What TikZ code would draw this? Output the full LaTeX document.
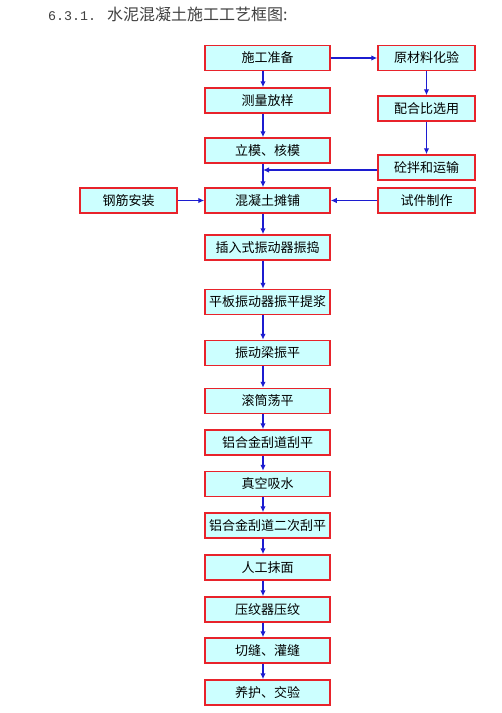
\documentclass[tikz,border=0pt]{standalone}
\usepackage{fontspec}
\setmainfont{Noto Sans CJK SC}
\newfontfamily\shuzi{Liberation Mono}
\usetikzlibrary{arrows.meta}
\definecolor{boxfill}{HTML}{CCFFFF}
\definecolor{boxline}{HTML}{E8232B}
\definecolor{arrowblue}{HTML}{1C1CD0}
\begin{document}
\begin{tikzpicture}[x=1pt, y=-1pt,
    gongxu/.style={draw=boxline, line width=1.5pt, fill=boxfill, minimum width=125pt, minimum height=25pt, inner sep=0pt, font=\fontsize{13}{15}\selectfont},
    fuzhu/.style={gongxu, minimum width=97pt},
    jiantou/.style={-{Latex[length=6pt,width=5.5pt]}, draw=arrowblue, line width=1.2pt}]
    \useasboundingbox (0,0) rectangle (502,713);
    % 标题
    \node[anchor=west, inner sep=0pt, text=black!75, font=\fontsize{16}{18}\selectfont] (biaoti) at (48,14) {{\shuzi\fontsize{13.3}{18}\selectfont 6.3.1.}\hspace{11pt}水泥混凝土施工工艺框图:};
    % 主流程
    \node[gongxu] (zhunbei) at (267.5,58) {施工准备};
    \node[gongxu] (celiang) at (267.5,100.5) {测量放样};
    \node[gongxu] (limo) at (267.5,150.5) {立模、核模};
    \node[gongxu] (tanpu) at (267.5,200.5) {混凝土摊铺};
    \node[gongxu] (chaoru) at (267.5,247.5) {插入式振动器振捣};
    \node[gongxu] (pingban) at (267.5,302) {平板振动器振平提浆};
    \node[gongxu] (zhendong) at (267.5,353) {振动梁振平};
    \node[gongxu] (guntong) at (267.5,401) {滚筒荡平};
    \node[gongxu] (guaping) at (267.5,442.5) {铝合金刮道刮平};
    \node[gongxu] (xishui) at (267.5,484) {真空吸水};
    \node[gongxu] (erci) at (267.5,525.5) {铝合金刮道二次刮平};
    \node[gongxu] (momian) at (267.5,567.5) {人工抹面};
    \node[gongxu] (yawen) at (267.5,609.5) {压纹器压纹};
    \node[gongxu] (qiefeng) at (267.5,650.5) {切缝、灌缝};
    \node[gongxu] (yanghu) at (267.5,692.5) {养护、交验};
    % 两侧
    \node[fuzhu] (huayan) at (426.5,58) {原材料化验};
    \node[fuzhu] (peihe) at (426.5,108.5) {配合比选用};
    \node[fuzhu] (banhe) at (426.5,167.5) {砼拌和运输};
    \node[fuzhu] (shijian) at (426.5,200.5) {试件制作};
    \node[fuzhu] (gangjin) at (128.5,200.5) {钢筋安装};
    % 竖向箭头
    \foreach \a/\b in {zhunbei/celiang, celiang/limo, limo/tanpu, tanpu/chaoru,
        chaoru/pingban, pingban/zhendong, zhendong/guntong, guntong/guaping,
        guaping/xishui, xishui/erci, erci/momian, momian/yawen, yawen/qiefeng,
        qiefeng/yanghu}
        \draw[jiantou] ([xshift=-4.5pt]\a.south) -- ([xshift=-4.5pt]\b.north);
    \draw[jiantou] (huayan) -- (peihe);
    \draw[jiantou] (peihe) -- (banhe);
    % 横向箭头
    \draw[jiantou] (zhunbei) -- (huayan);
    \draw[jiantou] (banhe.west |- 0,170) -- ([xshift=-4.5pt]limo.south |- 0,170);
    \draw[jiantou] (shijian) -- (tanpu);
    \draw[jiantou] (gangjin) -- (tanpu);
\end{tikzpicture}
\end{document}
